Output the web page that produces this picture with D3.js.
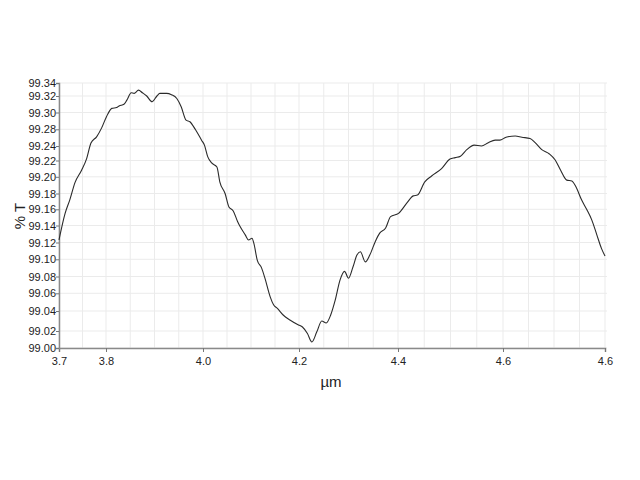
<!DOCTYPE html>
<html>
<head>
<meta charset="utf-8">
<script src="https://cdn.jsdelivr.net/npm/d3@7"></script>
<style>
  body { margin: 0; background: #fff; }
  text { font-family: "Liberation Sans", Arial, sans-serif; }
</style>
</head>
<body>
<svg id="chart" width="640" height="480"></svg>
<script>
// wavelength (µm) and transmission (%T)
const wavelength = [
    3.700, 3.713, 3.723, 3.734, 3.748, 3.759, 3.768, 3.780, 3.791, 3.801,
    3.812, 3.822, 3.827, 3.837, 3.843, 3.852, 3.858, 3.867, 3.875, 3.884,
    3.895, 3.905, 3.911, 3.925, 3.935, 3.946, 3.955, 3.965, 3.973, 3.984,
    3.997, 4.003, 4.010, 4.018, 4.029, 4.035, 4.046, 4.054, 4.063, 4.072,
    4.077, 4.088, 4.095, 4.102, 4.106, 4.113, 4.122, 4.129, 4.140, 4.147,
    4.155, 4.167, 4.181, 4.199, 4.207, 4.217, 4.226, 4.236, 4.246, 4.255,
    4.264, 4.273, 4.283, 4.292, 4.300, 4.309, 4.317, 4.324, 4.334, 4.343,
    4.354, 4.363, 4.375, 4.385, 4.401, 4.417, 4.429, 4.437, 4.451, 4.464,
    4.483, 4.499, 4.509, 4.519, 4.531, 4.545, 4.559, 4.572, 4.585, 4.594,
    4.606, 4.624, 4.637, 4.653, 4.663, 4.676, 4.691, 4.702, 4.713, 4.725,
    4.735, 4.743, 4.754, 4.764, 4.774, 4.784, 4.793, 4.800
];
const transmission = [
    99.123, 99.155, 99.172, 99.193, 99.208, 99.223, 99.247, 99.262, 99.282, 99.295,
    99.305, 99.306, 99.308, 99.310, 99.315, 99.325, 99.324, 99.329, 99.325, 99.320,
    99.313, 99.320, 99.324, 99.324, 99.322, 99.317, 99.307, 99.291, 99.289, 99.280,
    99.254, 99.242, 99.225, 99.217, 99.212, 99.194, 99.180, 99.163, 99.158, 99.145,
    99.139, 99.129, 99.123, 99.125, 99.119, 99.099, 99.090, 99.078, 99.056, 99.047,
    99.043, 99.036, 99.031, 99.026, 99.024, 99.017, 99.007, 99.019, 99.030, 99.028,
    99.036, 99.052, 99.076, 99.086, 99.078, 99.091, 99.105, 99.109, 99.097, 99.105,
    99.121, 99.131, 99.137, 99.151, 99.155, 99.168, 99.177, 99.178, 99.194, 99.201,
    99.210, 99.222, 99.224, 99.226, 99.235, 99.242, 99.240, 99.248, 99.254, 99.254,
    99.261, 99.264, 99.261, 99.258, 99.248, 99.235, 99.229, 99.221, 99.208, 99.196,
    99.195, 99.188, 99.172, 99.160, 99.147, 99.129, 99.113, 99.104
];

const xTicks = [3.7, 3.8, 4.0, 4.2, 4.4, 4.6, 4.8];
const xTickLabels = ["3.7", "3.8", "4.0", "4.2", "4.4", "4.6", "4.6"];
const yTicks = [99.00, 99.02, 99.04, 99.06, 99.08, 99.10, 99.12, 99.14, 99.16,
                99.18, 99.20, 99.22, 99.24, 99.28, 99.30, 99.32, 99.34];

const svg = d3.select("#chart");

// axes as printed on the original sheet (slightly uneven spacing)
const x = d3.scaleLinear()
    .domain(xTicks)
    .range([59, 106, 203, 299, 398, 503, 605]);
const y = d3.scaleLinear()
    .domain(yTicks)
    .range([348, 331, 311, 293.3, 276.5, 259.3, 242.5, 225.5, 209.3,
            193.5, 176.8, 160.5, 146, 129.3, 112.5, 96, 83]);

const yTop = y(yTicks[yTicks.length - 1]), yBottom = y(yTicks[0]);
const xLeft = x(xTicks[0]), xRight = x(xTicks[xTicks.length - 1]);

// grid
const grid = svg.append("g").attr("stroke", "#ebebeb").attr("stroke-width", 1);
grid.selectAll(".vg")
    .data(d3.range(0, 23).map(i => 3.7 + i * 0.05))
    .join("line")
    .attr("x1", d => x(d)).attr("x2", d => x(d))
    .attr("y1", yTop).attr("y2", yBottom);
grid.selectAll(".hg")
    .data(yTicks)
    .join("line")
    .attr("x1", xLeft).attr("x2", xRight + 2)
    .attr("y1", d => y(d)).attr("y2", d => y(d));

// axes
const xAxis = svg.append("g")
    .attr("transform", `translate(0,${yBottom})`)
    .call(d3.axisBottom(x).tickValues(xTicks).tickSizeOuter(0).tickSize(4)
        .tickFormat((d, i) => xTickLabels[i]));
const yAxis = svg.append("g")
    .attr("transform", `translate(${xLeft},0)`)
    .call(d3.axisLeft(y).tickValues(yTicks).tickSizeOuter(0).tickSize(3)
        .tickFormat(d3.format(".2f")));

[xAxis, yAxis].forEach(g => {
    g.select(".domain").attr("stroke", "#8a8a8a").attr("stroke-width", 1.5);
    g.selectAll(".tick line").attr("stroke", "#777");
    g.selectAll(".tick text").attr("fill", "#222").style("font-size", "11px");
});
xAxis.selectAll(".tick text").attr("dy", "0.9em");
yAxis.selectAll(".tick text").attr("x", -3);

// trace
const pts = wavelength.map((d, i) => [d, transmission[i]]);
svg.append("path")
    .datum(pts)
    .attr("fill", "none")
    .attr("stroke", "#2a2a2a")
    .attr("stroke-width", 1.1)
    .attr("d", d3.line()
        .x(d => x(d[0]))
        .y(d => y(d[1]))
        .curve(d3.curveMonotoneX));

// axis titles
svg.append("text")
    .attr("transform", "translate(25,216) rotate(-90)")
    .attr("text-anchor", "middle")
    .attr("fill", "#222")
    .style("font-size", "15px")
    .text("% T");
svg.append("text")
    .attr("x", 331)
    .attr("y", 387)
    .attr("text-anchor", "middle")
    .attr("fill", "#222")
    .style("font-size", "15px")
    .text("µm");
</script>
</body>
</html>
